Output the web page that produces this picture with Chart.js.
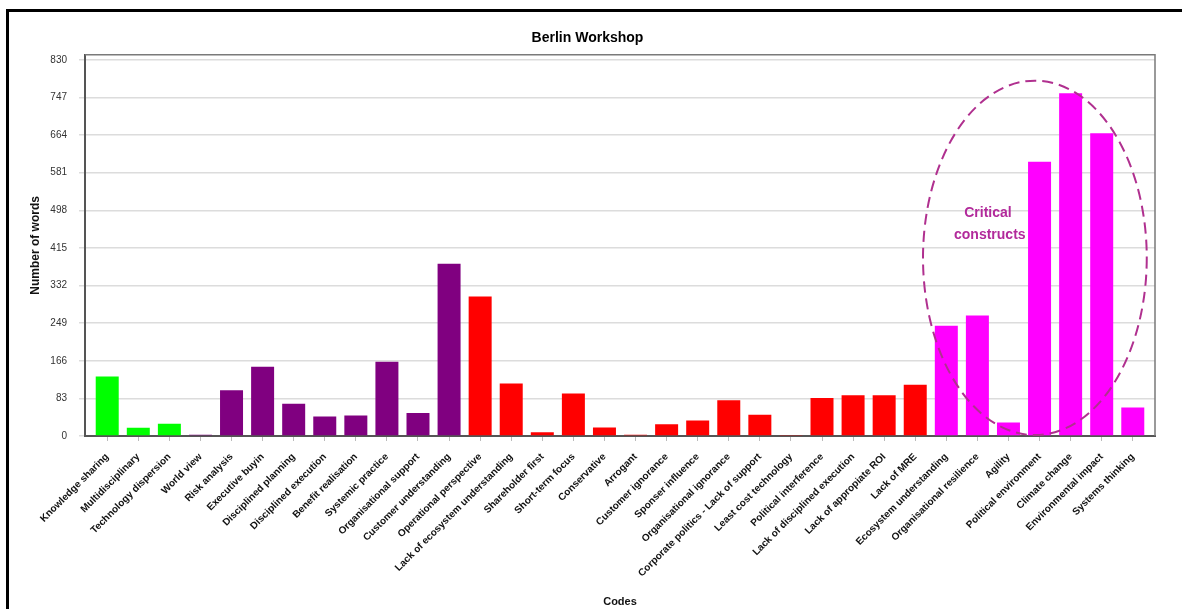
<!DOCTYPE html>
<html>
<head>
<meta charset="utf-8">
<script src="https://cdn.jsdelivr.net/npm/chart.js@4/dist/chart.umd.min.js"></script>
<style>
  html, body { margin: 0; padding: 0; background: #fff; overflow: hidden; }
  #frame { position: absolute; left: 6px; top: 9px; width: 1400px; height: 800px;
           border-left: 3px solid #000; border-top: 3px solid #000; }
  #wrap { position: absolute; left: 20px; top: 12px; width: 1168px; height: 597px; }
</style>
</head>
<body>
<div id="frame"></div>
<div id="wrap"><canvas id="chart"></canvas></div>
<script>
// categories (codes) in order
const codes = [
  "Knowledge sharing", "Multidisciplinary", "Technology dispersion", "World view",
  "Risk analysis", "Executive buyin", "Disciplined planning", "Disciplined execution",
  "Benefit realisation", "Systemic practice", "Organisational support", "Customer understanding",
  "Operational perspective", "Lack of ecosystem understanding", "Shareholder first", "Short-term focus",
  "Conservative", "Arrogant", "Customer ignorance", "Sponser influence",
  "Organisational ignorance", "Corporate politics - Lack of support", "Least cost technology",
  "Political interference", "Lack of disciplined execution", "Lack of appropiate ROI", "Lack of MRE",
  "Ecosystem understanding", "Organisational resilience", "Agility", "Political environment",
  "Climate change", "Environmental impact", "Systems thinking"
];

// number of words per code
const words = [
  131, 18, 27, 3,
  101, 153, 71, 43,
  45, 164, 51, 380,
  308, 116, 8, 94,
  19, 3, 26, 34,
  79, 47, 2,
  84, 90, 90, 113,
  243, 266, 30, 605,
  756, 668, 63
];

// group of each code: 0 green, 1 purple, 2 red, 3 magenta
const groups = [
  0, 0, 0, 1, 1, 1, 1, 1, 1, 1, 1, 1,
  2, 2, 2, 2, 2, 2, 2, 2, 2, 2, 2, 2, 2, 2, 2,
  3, 3, 3, 3, 3, 3, 3
];

const yTicks = [0, 83, 166, 249, 332, 415, 498, 581, 664, 747, 830];

const palette = ["#00ff00", "#800080", "#ff0000", "#ff00ff"];

// dashed "critical constructs" ellipse + text
const critical = {
  id: "critical",
  afterDatasetsDraw(chart) {
    const { ctx, scales: { x, y } } = chart;
    const cx = x.getPixelForValue(29.85);
    const rx = x.getPixelForValue(29.85 + 3.6) - cx;
    const top = y.getPixelForValue(784);
    const bottom = y.getPixelForValue(2);
    ctx.save();
    ctx.strokeStyle = "#b0308f";
    ctx.lineWidth = 2;
    ctx.setLineDash([11, 6]);
    ctx.beginPath();
    ctx.ellipse(cx, (top + bottom) / 2, rx, (bottom - top) / 2, 0, 0, Math.PI * 2);
    ctx.stroke();
    ctx.setLineDash([]);
    ctx.fillStyle = "#b22a9b";
    ctx.font = "bold 14px 'Liberation Sans', sans-serif";
    ctx.textAlign = "center";
    ctx.textBaseline = "middle";
    ctx.fillText("Critical", x.getPixelForValue(28.34), y.getPixelForValue(492));
    ctx.fillText("constructs", x.getPixelForValue(28.4), y.getPixelForValue(444));
    ctx.restore();
  }
};

// gray frame on top and right of plot area
const plotFrame = {
  id: "plotFrame",
  afterDraw(chart) {
    const { ctx, chartArea: a } = chart;
    ctx.save();
    ctx.strokeStyle = "#7a7a7a";
    ctx.lineWidth = 1.5;
    ctx.beginPath();
    ctx.moveTo(a.left, a.top);
    ctx.lineTo(a.right, a.top);
    ctx.lineTo(a.right, a.bottom);
    ctx.stroke();
    ctx.restore();
  }
};

new Chart(document.getElementById("chart"), {
  type: "bar",
  data: {
    labels: codes,
    datasets: [{
      label: "Number of words",
      data: words,
      backgroundColor: groups.map(g => palette[g]),
      barPercentage: 0.74,
      categoryPercentage: 1
    }]
  },
  options: {
    responsive: true,
    maintainAspectRatio: false,
    animation: false,
    layout: { padding: { left: 0, right: 33, top: 0, bottom: 0 } },
    plugins: {
      legend: { display: false },
      tooltip: { enabled: false },
      title: {
        display: true,
        text: "Berlin Workshop",
        color: "#000",
        font: { family: "'Liberation Sans', sans-serif", size: 14, weight: "bold" },
        padding: { top: 18, bottom: 8 }
      }
    },
    scales: {
      x: {
        offset: true,
        grid: { display: true, drawOnChartArea: false, offset: false, tickLength: 5, color: "#bbb", lineWidth: 1 },
        border: { color: "#555", width: 2 },
        ticks: {
          autoSkip: false, minRotation: 45, maxRotation: 45, padding: 10,
          color: "#111",
          font: { family: "'Liberation Sans', sans-serif", size: 10, weight: "bold" }
        },
        title: {
          display: true, text: "Codes", color: "#111",
          font: { family: "'Liberation Sans', sans-serif", size: 11, weight: "bold" },
          padding: { top: 0, bottom: 0 }
        },
        afterBuildTicks(scale) {
          // a little extra room at both ends, like the original plot
          scale._startValue -= 0.215;
          scale._valueRange += 0.43;
        },
        afterFit(scale) { scale.height = 173; }
      },
      y: {
        min: 0,
        max: 841,
        afterBuildTicks(scale) { scale.ticks = yTicks.map(v => ({ value: v })); },
        grid: { color: "#dcdcdc", lineWidth: 1.5, tickLength: 6 },
        border: { color: "#555", width: 2 },
        ticks: {
          padding: 12, color: "#333",
          font: { family: "'Liberation Sans', sans-serif", size: 10 }
        },
        title: {
          display: true, text: "Number of words", color: "#111",
          font: { family: "'Liberation Sans', sans-serif", size: 12, weight: "bold" },
          padding: { top: 8, bottom: 0 }
        },
        afterFit(scale) { scale.width = 65; }
      }
    }
  },
  plugins: [critical, plotFrame]
});
</script>
</body>
</html>
